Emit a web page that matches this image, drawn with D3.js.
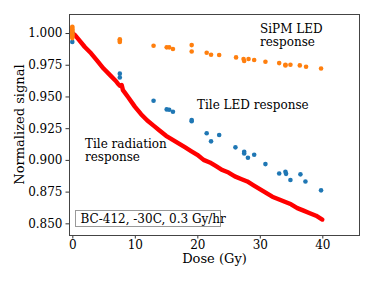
<!DOCTYPE html>
<html>
  <head>
    <meta charset="utf-8">
    <title>Normalized signal vs dose</title>
    <script src="https://d3js.org/d3.v7.min.js"></script>
  </head>
  <style>
    body { margin: 0; background: #fff; }
    text { font-family: "DejaVu Serif", serif; fill: #000; }
  </style>
  <body>
    <script>
      const width = 374;
      const height = 281;

      // tile radiation response (red)
      const radDose = [0, 0.5, 1, 2, 3, 4, 5, 6, 7, 7.3, 7.6, 7.9, 8.1, 8.4, 9, 10, 11, 12, 13, 14, 15, 16, 17, 18, 19, 20,
        21, 22, 23, 24, 25, 26, 27, 28, 29, 30, 31, 32, 33, 34, 35, 36, 37, 38, 39, 40];
      const radSignal = [1.000, 0.998, 0.995, 0.989, 0.984, 0.978, 0.972, 0.967, 0.962, 0.960, 0.9585, 0.959, 0.955, 0.953, 0.949, 0.942,
        0.936, 0.931, 0.927, 0.923, 0.919, 0.916, 0.913, 0.910, 0.907, 0.904, 0.900, 0.898, 0.895, 0.892, 0.890, 0.887,
        0.885, 0.883, 0.880, 0.877, 0.874, 0.871, 0.869, 0.867, 0.865, 0.862, 0.860, 0.858, 0.856, 0.853];

      // tile LED response (blue)
      const tileDose = [0, 0, 7.6, 7.6, 13.0, 15.1, 15.5, 16.1, 19.1, 19.1, 21.5, 22.2, 23.5, 26.1, 27.5, 27.5, 28.1, 29.1,
        30.9, 33.1, 34.1, 34.2, 34.9, 36.5, 37.3, 39.8];
      const tileSignal = [0.993, 1.0, 0.968, 0.965, 0.9466, 0.9398, 0.9395, 0.938, 0.9314, 0.9305, 0.921, 0.9146, 0.9196,
        0.9099, 0.9064, 0.905, 0.9017, 0.904, 0.8967, 0.8893, 0.8906, 0.889, 0.8841, 0.8886, 0.883, 0.876];

      // SiPM LED response (orange)
      const sipmDose = [0, 0, 0, 0, 0, 0, 0, 0, 0, 0, 7.6, 7.6, 7.6, 13.0, 15.1, 15.5, 16.1, 19.1, 19.1, 21.5, 22.2, 23.5,
        26.2, 27.4, 27.5, 28.2, 29.1, 30.9, 33.1, 34.1, 34.1, 34.9, 36.4, 37.4, 39.8];
      const sipmSignal = [1.005, 1.004, 1.003, 1.002, 1.001, 1.000, 0.999, 0.998, 0.997, 0.996, 0.995, 0.994, 0.993, 0.990,
        0.9887, 0.9887, 0.9874, 0.9905, 0.9855, 0.9845, 0.9829, 0.9827, 0.9808, 0.9795, 0.978, 0.9795, 0.9787, 0.9774,
        0.9763, 0.975, 0.9745, 0.975, 0.9745, 0.9734, 0.972];

      const xTicks = [0, 10, 20, 30, 40];
      const yTicks = [0.850, 0.875, 0.900, 0.925, 0.950, 0.975, 1.000];

      const plot = {left: 69, right: 360, top: 14, bottom: 235};

      const xScale = d3.scaleLinear()
        .domain([-0.53, 46.03])
        .range([plot.left, plot.right]);

      const yScale = d3.scaleLinear()
        .domain([0.8408, 1.015])
        .range([plot.bottom, plot.top]);

      const svg = d3.select("body")
        .append("svg")
          .attr("width", width)
          .attr("height", height);

      // red radiation curve
      const line = d3.line()
        .x(function(d, i) { return xScale(radDose[i]); })
        .y(function(d) { return yScale(d); });

      svg.append("path")
        .datum(radSignal)
        .attr("d", line)
        .attr("fill", "none")
        .attr("stroke", "#ff0000")
        .attr("stroke-width", 4.4)
        .attr("stroke-linejoin", "round")
        .attr("stroke-linecap", "round");

      function dots(doses, values, color) {
        svg.append("g")
          .selectAll("circle")
          .data(values)
          .enter()
          .append("circle")
            .attr("cx", function(d, i) { return xScale(doses[i]); })
            .attr("cy", function(d) { return yScale(d); })
            .attr("r", 2.3)
            .attr("fill", color);
      }

      dots(tileDose, tileSignal, "#1f77b4");
      dots(sipmDose, sipmSignal, "#ff7f0e");

      // axes
      const xAxis = d3.axisBottom(xScale)
        .tickValues(xTicks)
        .tickFormat(d3.format("d"))
        .tickSizeOuter(0)
        .tickSize(3.5)
        .tickPadding(2);

      const yAxis = d3.axisLeft(yScale)
        .tickValues(yTicks)
        .tickFormat(d3.format(".3f"))
        .tickSizeOuter(0)
        .tickSize(3.5)
        .tickPadding(3);

      svg.append("g")
          .attr("transform", "translate(0," + plot.bottom + ")")
          .call(xAxis);

      svg.append("g")
          .attr("transform", "translate(" + plot.left + ",0)")
          .call(yAxis);

      svg.selectAll(".tick text")
        .style("font-family", "DejaVu Serif")
        .style("font-size", "12px");
      svg.selectAll(".tick line").attr("stroke", "#333");
      svg.selectAll(".domain").remove();

      // frame
      svg.append("rect")
        .attr("x", plot.left + 0.5)
        .attr("y", plot.top + 0.5)
        .attr("width", plot.right - plot.left - 1)
        .attr("height", plot.bottom - plot.top)
        .attr("fill", "none")
        .attr("stroke", "#444")
        .attr("stroke-width", 1);

      // axis labels
      svg.append("text")
        .attr("x", (plot.left + plot.right) / 2)
        .attr("y", 263)
        .attr("text-anchor", "middle")
        .style("font-size", "13px")
        .text("Dose (Gy)");

      svg.append("text")
        .attr("transform", "translate(24," + ((plot.top + plot.bottom) / 2) + ") rotate(-90)")
        .attr("text-anchor", "middle")
        .style("font-size", "13px")
        .text("Normalized signal");

      // annotations
      function note(x, y, lines) {
        const t = svg.append("text")
          .attr("x", x)
          .attr("y", y)
          .style("font-size", "12px");
        lines.forEach(function(s, i) {
          t.append("tspan")
            .attr("x", x)
            .attr("dy", i === 0 ? 0 : 12.5)
            .text(s);
        });
      }

      note(260, 33, ["SiPM LED", "response"]);
      note(197, 109, ["Tile LED response"]);
      note(85, 148, ["Tile radiation", "response"]);

      // legend box
      svg.append("rect")
        .attr("x", 75.5)
        .attr("y", 210.5)
        .attr("width", 145)
        .attr("height", 16)
        .attr("fill", "#fff")
        .attr("stroke", "#999")
        .attr("stroke-width", 1);

      svg.append("text")
        .attr("x", 80.5)
        .attr("y", 223)
        .style("font-size", "12px")
        .text("BC-412, -30C, 0.3 Gy/hr");
    </script>
  </body>
</html>
